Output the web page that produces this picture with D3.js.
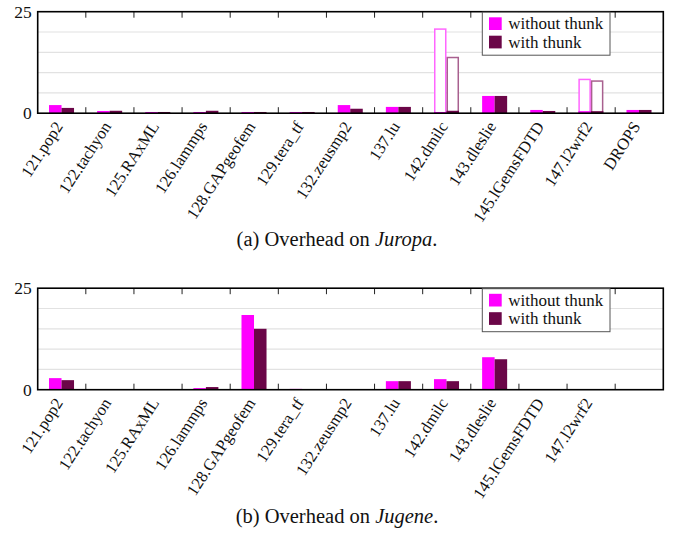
<!DOCTYPE html>
<html>
<head>
<meta charset="utf-8">
<script src="https://cdn.jsdelivr.net/npm/d3@7/dist/d3.min.js"></script>
<style>
  html, body { margin: 0; padding: 0; background: #fff; }
  svg { display: block; }
  text { font-family: "Liberation Serif", "Times New Roman", serif; fill: #111; }
</style>
</head>
<body>
<svg id="chart" width="677" height="548"></svg>
<script>
// Benchmarks on the x axis (same slots in both panels)
const benchmarks = ["121.pop2", "122.tachyon", "125.RAxML", "126.lammps", "128.GAPgeofem",
  "129.tera_tf", "132.zeusmp2", "137.lu", "142.dmilc", "143.dleslie",
  "145.lGemsFDTD", "147.l2wrf2", "DROPS"];
const seriesNames = ["without thunk", "with thunk"];
const yTicks = [0, 25];
const yGrid = [5, 10, 15, 20];

// Overhead on Juropa
const juropaWithout = [2.0, 0.55, 0.3, 0.3, 0.3, 0.3, 2.0, 1.55, 0.3, 4.25, 0.8, 0.5, 0.8];
const juropaWith    = [1.3, 0.6, 0.3, 0.6, 0.3, 0.3, 1.1, 1.55, 0.6, 4.25, 0.55, 0.5, 0.8];
// upper extent drawn as outlined bars
const juropaWithoutPeak = [null, null, null, null, null, null, null, null, 20.9, null, null, 8.5, null];
const juropaWithPeak    = [null, null, null, null, null, null, null, null, 13.9, null, null, 8.1, null];

// Overhead on Jugene (no DROPS run)
const jugeneWithout = [2.85, 0, 0, 0.4, 18.4, 0.2, 0, 2.1, 2.6, 8.0, 0.15, 0.15, null];
const jugeneWith    = [2.35, 0, 0, 0.65, 15.0, 0, 0.15, 2.1, 2.1, 7.5, 0, 0.15, null];
const nullPeaks     = benchmarks.map(() => null);

const fillColors = ["#ff00ff", "#6b0648"];
const peakColors = ["#ff66ff", "#a8608f"];

const svg = d3.select("#chart");

function panel(top, without, withT, withoutPeak, withPeak, captionParts) {
  const left = 37.7, right = 663.3, height = 101.5;
  const g = svg.append("g");

  const x = d3.scaleBand().domain(benchmarks).range([left, right]).paddingInner(0).paddingOuter(0);
  const bw = x.bandwidth();
  const x1 = d3.scaleBand().domain(seriesNames).range([bw * 0.235, bw * 0.755]);
  const y = d3.scaleLinear().domain([0, 25]).range([top + height, top]);

  // grid lines
  g.selectAll("line.grid").data(yGrid).join("line")
    .attr("x1", left).attr("x2", right)
    .attr("y1", d => y(d)).attr("y2", d => y(d))
    .attr("stroke", "#e2e2e2").attr("stroke-width", 1.2);

  const rows = benchmarks.map((b, i) => ({
    name: b,
    vals: [without[i], withT[i]],
    peaks: [withoutPeak[i], withPeak[i]]
  }));

  const grp = g.selectAll("g.cat").data(rows).join("g")
    .attr("transform", d => `translate(${x(d.name)},0)`);

  // outlined upper extents
  grp.selectAll("rect.peak")
    .data(d => d.peaks.map((p, k) => ({ s: seriesNames[k], k, v: p })).filter(e => e.v != null))
    .join("rect")
    .attr("x", e => x1(e.s) + 0.75)
    .attr("width", x1.bandwidth() - 1.5)
    .attr("y", e => y(e.v) + 0.75)
    .attr("height", e => y(0) - y(e.v) - 0.75)
    .attr("fill", "#fff")
    .attr("stroke", e => peakColors[e.k])
    .attr("stroke-width", 1.5);

  // filled bars
  grp.selectAll("rect.val")
    .data(d => d.vals.map((v, k) => ({ s: seriesNames[k], k, v })).filter(e => e.v != null && e.v > 0))
    .join("rect")
    .attr("x", e => x1(e.s))
    .attr("width", x1.bandwidth())
    .attr("y", e => y(e.v))
    .attr("height", e => y(0) - y(e.v))
    .attr("fill", e => fillColors[e.k]);

  // tick marks at slot boundaries, top and bottom
  const bounds = benchmarks.slice(1).map(b => x(b));
  g.selectAll("line.tb").data(bounds).join("line")
    .attr("x1", d => d).attr("x2", d => d)
    .attr("y1", y(0)).attr("y2", y(0) - 6)
    .attr("stroke", "#222").attr("stroke-width", 1);
  g.selectAll("line.tt").data(bounds).join("line")
    .attr("x1", d => d).attr("x2", d => d)
    .attr("y1", y(25)).attr("y2", y(25) + 6)
    .attr("stroke", "#222").attr("stroke-width", 1);

  // frame
  g.append("rect")
    .attr("x", left).attr("y", top)
    .attr("width", right - left).attr("height", height)
    .attr("fill", "none").attr("stroke", "#000").attr("stroke-width", 1.6);

  // y tick labels
  g.selectAll("text.yl").data(yTicks).join("text")
    .attr("x", left - 6).attr("y", d => y(d)).attr("dy", "0.35em")
    .attr("text-anchor", "end").style("font-size", "17.5px")
    .text(d => d);

  // x labels (only for slots that have a value)
  g.selectAll("text.xl").data(rows.filter(r => r.vals[0] != null)).join("text")
    .attr("transform", d => `translate(${x(d.name) + bw / 2 - 3},${y(0) + 10}) rotate(-57)`)
    .attr("text-anchor", "end").attr("dy", "0.35em")
    .style("font-size", "16.6px")
    .text(d => d.name);

  // legend
  const lg = g.append("g");
  lg.append("rect")
    .attr("x", 482.3).attr("y", top + 0.5).attr("width", 127.7).attr("height", 43)
    .attr("fill", "#fff").attr("stroke", "#555").attr("stroke-width", 1);
  seriesNames.forEach((s, k) => {
    const ry = top + 5.6 + k * 18.4;
    lg.append("rect").attr("x", 489).attr("y", ry).attr("width", 12.7).attr("height", 12.7)
      .attr("fill", fillColors[k]);
    lg.append("text").attr("x", 508.3).attr("y", ry + 11.8)
      .style("font-size", "17px").text(s);
  });

  // caption
  const cap = g.append("text").attr("x", 337).attr("y", top + height + 133)
    .attr("text-anchor", "middle").style("font-size", "20.5px");
  captionParts.forEach(p => {
    cap.append("tspan").style("font-style", p.italic ? "italic" : "normal").text(p.t);
  });
}

panel(11.7, juropaWithout, juropaWith, juropaWithoutPeak, juropaWithPeak,
  [{ t: "(a)  Overhead on " }, { t: "Juropa", italic: true }, { t: "." }]);
panel(288.2, jugeneWithout, jugeneWith, nullPeaks, nullPeaks,
  [{ t: "(b)  Overhead on " }, { t: "Jugene", italic: true }, { t: "." }]);
</script>
</body>
</html>
